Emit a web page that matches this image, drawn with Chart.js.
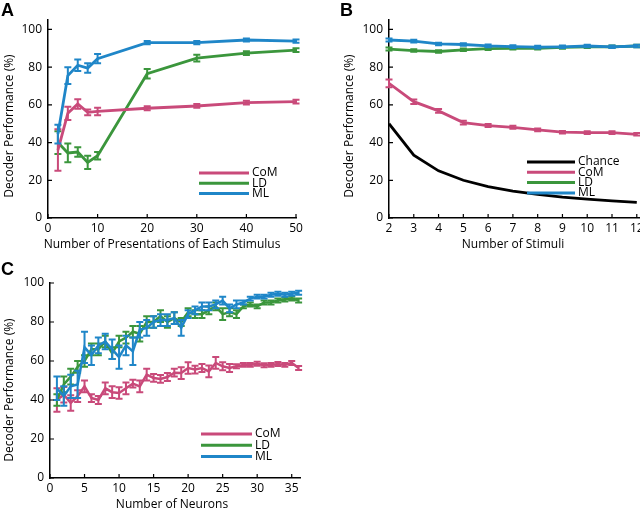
<!DOCTYPE html>
<html>
<head>
<meta charset="utf-8">
<script src="https://cdn.jsdelivr.net/npm/chart.js@4.4.1/dist/chart.umd.min.js"></script>
<style>
  html, body { margin: 0; padding: 0; background: #fff; width: 640px; height: 510px; overflow: hidden; }
  .panel { position: absolute; }
  .letter { position: absolute; font: bold 18px 'Liberation Sans', Arial, sans-serif; line-height: 1; color: #000; }
</style>
</head>
<body>
<canvas id="chartA" class="panel" width="320" height="255" style="left:0;top:0"></canvas>
<canvas id="chartB" class="panel" width="330" height="255" style="left:320px;top:0"></canvas>
<canvas id="chartC" class="panel" width="320" height="258" style="left:0;top:255px"></canvas>
<div class="letter" style="left:1px;top:1px">A</div>
<div class="letter" style="left:340px;top:1px">B</div>
<div class="letter" style="left:1px;top:260px">C</div>
<script>
// Panel A - decoder performance vs presentations
const aPresentations = [2, 4, 6, 8, 10, 20, 30, 40, 50]
const aCoM = [36, 55.5, 60.5, 56, 56.5, 58.2, 59.4, 61.2, 61.7]
const aCoMErr = [11, 3.5, 2.5, 1.5, 2, 1, 1, 1, 1]
const aLD = [40, 34.5, 35, 29.5, 33, 76.5, 84.8, 87.4, 89]
const aLDErr = [6, 5, 2.5, 3.5, 2, 2.5, 1.8, 1, 1]
const aML = [44.5, 75.5, 81, 79.5, 84.5, 93, 93, 94.4, 93.8]
const aMLErr = [5, 4.5, 3, 2.5, 2.5, 0.8, 0.8, 0.8, 0.8]

// Panel B - decoder performance vs number of stimuli
const bStimuli = [2, 3, 4, 5, 6, 7, 8, 9, 10, 11, 12]
const bChance = [50, 33.3, 25, 20, 16.7, 14.3, 12.5, 11.1, 10, 9.1, 8.3]
const bCoM = [71.4, 61.7, 56.8, 50.6, 49, 48.1, 46.7, 45.5, 45.3, 45.3, 44.4]
const bCoMErr = [2, 1.2, 1, 1, 0.8, 0.8, 0.7, 0.7, 0.7, 0.7, 0.7]
const bLD = [89.6, 88.8, 88.3, 89.2, 89.8, 90, 90, 90.5, 90.8, 90.8, 91.2]
const bLDErr = [0.8, 0.7, 0.7, 0.7, 0.7, 0.7, 0.7, 0.7, 0.7, 0.7, 0.7]
const bML = [94.4, 93.8, 92.3, 92, 91.3, 90.9, 90.6, 90.8, 91.2, 90.8, 91.2]
const bMLErr = [0.8, 0.7, 0.7, 0.7, 0.7, 0.7, 0.7, 0.7, 0.7, 0.7, 0.7]

// Panel C - decoder performance vs number of neurons
const cNeurons = [1, 2, 3, 4, 5, 6, 7, 8, 9, 10, 11, 12, 13, 14, 15, 16, 17, 18,
  19, 20, 21, 22, 23, 24, 25, 26, 27, 28, 29, 30, 31, 32, 33, 34, 35, 36]
const cCoM = [40, 42.7, 38.5, 42, 47, 41, 40, 46, 44, 43.6, 46, 48.4, 47, 53, 51.3, 50.8, 51.8, 54,
  53.8, 56.4, 55.6, 56.4, 54.7, 59, 57.3, 56.4, 57.3, 58, 58, 58.6, 57.8, 58, 58.5, 58, 59, 56.4]
const cCoMErr = [6, 4, 4, 3, 3, 2, 2, 3, 3, 3, 3, 2, 3, 3, 2, 2, 2, 2,
  3, 3, 2, 2, 3, 3, 2, 2, 1, 1, 1, 1, 1, 1, 1, 1, 1, 1]
const cLD = [40, 48, 52, 57, 60, 66, 66, 70, 64, 70, 72, 75, 74, 80, 80, 83, 80, 82,
  80, 85, 84, 84, 86, 88, 84, 85, 84, 88, 89, 88, 90, 90, 91, 91.5, 92, 91]
const cLDErr = [3, 4, 4, 3, 3, 3, 3, 3, 3, 3, 3, 3, 4, 3, 3, 3, 3, 3,
  2, 2, 2, 2, 2, 2, 3, 2, 2, 1, 1, 1, 1, 1, 1, 1, 1, 1]
const cML = [46, 42, 47, 48, 67, 63, 68, 70, 66, 62, 68, 65, 76, 77, 80, 81, 81, 82,
  77, 84, 86, 88, 88, 89, 91, 87, 89, 90, 92, 93, 93, 94, 94.5, 94, 94.5, 95]
const cMLErr = [6, 5, 6, 7, 8, 5, 4, 4, 5, 6, 5, 7, 4, 4, 3, 3, 3, 3,
  4, 2, 2, 2, 2, 2, 2, 2, 2, 1, 1, 1, 1, 1, 1, 1, 1, 1]

const pink = '#c94a7a'
const green = '#3b963c'
const blue = '#1f86c8'

Chart.defaults.font.family = '"Open Sans", sans-serif'
Chart.defaults.font.size = 12
Chart.defaults.color = '#000'

function points(xs, ys) {
  return xs.map((x, i) => ({ x: x, y: ys[i] }))
}

// draws the error bars right after each dataset so overlap order stays right
const errorBars = {
  id: 'errorBars',
  afterDatasetDraw(chart, args) {
    const ds = chart.data.datasets[args.index]
    if (!ds.errors) return
    const ctx = chart.ctx
    const yScale = chart.scales.y
    const w = ds.capWidth || 3.5
    ctx.save()
    ctx.strokeStyle = ds.borderColor
    ctx.lineWidth = ds.errorWidth || 2
    args.meta.data.forEach((pt, i) => {
      const v = ds.data[i].y
      const top = yScale.getPixelForValue(v + ds.errors[i])
      const bot = yScale.getPixelForValue(v - ds.errors[i])
      ctx.beginPath()
      ctx.moveTo(pt.x, top)
      ctx.lineTo(pt.x, bot)
      ctx.moveTo(pt.x - w, top)
      ctx.lineTo(pt.x + w, top)
      ctx.moveTo(pt.x - w, bot)
      ctx.lineTo(pt.x + w, bot)
      ctx.stroke()
    })
    ctx.restore()
  },
}

// MATLAB style ticks pointing into the plot
const inwardTicks = {
  id: 'inwardTicks',
  afterDraw(chart) {
    const { ctx, chartArea, scales } = chart
    ctx.save()
    ctx.strokeStyle = '#000'
    ctx.lineWidth = 1.2
    ctx.beginPath()
    scales.x.ticks.forEach((t) => {
      const px = scales.x.getPixelForValue(t.value)
      ctx.moveTo(px, chartArea.bottom)
      ctx.lineTo(px, chartArea.bottom - 4)
    })
    scales.y.ticks.forEach((t) => {
      const py = scales.y.getPixelForValue(t.value)
      ctx.moveTo(chartArea.left, py)
      ctx.lineTo(chartArea.left + 4, py)
    })
    ctx.stroke()
    ctx.restore()
  },
}

// axis titles placed where the figure has them (not centred on the axis)
const axisTitles = {
  id: 'axisTitles',
  afterDraw(chart, args, opts) {
    const ctx = chart.ctx
    ctx.save()
    ctx.font = '12px "Open Sans", sans-serif'
    ctx.fillStyle = '#000'
    ctx.textAlign = 'center'
    ctx.textBaseline = 'middle'
    ctx.fillText(opts.xText, opts.xAt[0], opts.xAt[1])
    ctx.translate(opts.yAt[0], opts.yAt[1])
    ctx.rotate(-Math.PI / 2)
    ctx.fillText('Decoder Performance (%)', 0, 0)
    ctx.restore()
  },
}

// legend as line + label inside the plot
const lineLegend = {
  id: 'lineLegend',
  afterDatasetsDraw(chart, args, opts) {
    if (!opts.items) return
    const ctx = chart.ctx
    ctx.save()
    ctx.font = '12px "Open Sans", sans-serif'
    ctx.textBaseline = 'middle'
    opts.items.forEach((idx, k) => {
      const ds = chart.data.datasets[idx]
      const y = opts.y + k * opts.gap
      ctx.strokeStyle = ds.borderColor
      ctx.lineWidth = 3
      ctx.beginPath()
      ctx.moveTo(opts.x, y)
      ctx.lineTo(opts.x + opts.len, y)
      ctx.stroke()
      ctx.fillStyle = '#000'
      ctx.fillText(ds.label, opts.x + opts.len + 3, y)
    })
    ctx.restore()
  },
}

function series(label, xs, ys, errs, color, order, width) {
  return {
    label: label,
    data: points(xs, ys),
    errors: errs,
    borderColor: color,
    backgroundColor: color,
    borderWidth: width,
    pointRadius: 0,
    order: order,
  }
}

function makeChart(id, datasets, cfg) {
  return new Chart(document.getElementById(id), {
    type: 'line',
    data: { datasets: datasets },
    options: {
      responsive: false,
      animation: false,
      events: [],
      layout: { padding: cfg.padding },
      plugins: {
        legend: { display: false },
        tooltip: { enabled: false },
        lineLegend: cfg.legend,
        axisTitles: cfg.titles,
      },
      scales: {
        x: {
          type: 'linear',
          min: cfg.xMin,
          max: cfg.xMax,
          grid: { display: false, drawTicks: false },
          border: { display: true, color: '#000', width: 1.5 },
          ticks: { stepSize: cfg.xStep, includeBounds: false, padding: 3, maxRotation: 0, font: { size: 12 } },
          afterFit: (s) => { s.height = cfg.xHeight },
        },
        y: {
          min: 0,
          max: cfg.yMax,
          grid: { display: false, drawTicks: false },
          border: { display: true, color: '#000', width: 1.5 },
          ticks: { stepSize: 20, includeBounds: false, padding: 6, font: { size: 12 } },
          afterFit: (s) => { s.width = cfg.yWidth },
        },
      },
    },
    plugins: [errorBars, inwardTicks, lineLegend, axisTitles],
  })
}

makeChart('chartA', [
  series('CoM', aPresentations, aCoM, aCoMErr, pink, 1, 2.8),
  series('LD', aPresentations, aLD, aLDErr, green, 2, 2.8),
  series('ML', aPresentations, aML, aMLErr, blue, 0, 2.8),
], {
  padding: { top: 20, right: 24, left: 0, bottom: 0 },
  xMin: 0, xMax: 50, xStep: 10, yMax: 105,
  xHeight: 37, yWidth: 48,
  titles: { xText: 'Number of Presentations of Each Stimulus', xAt: [162, 245], yAt: [10, 126] },
  legend: { items: [0, 1, 2], x: 199, y: 173, gap: 10.2, len: 50 },
})

makeChart('chartB', [
  { label: 'Chance', data: points(bStimuli, bChance), borderColor: '#000', borderWidth: 2.8, pointRadius: 0, order: 0 },
  series('CoM', bStimuli, bCoM, bCoMErr, pink, 3, 2.8),
  series('LD', bStimuli, bLD, bLDErr, green, 2, 2.8),
  series('ML', bStimuli, bML, bMLErr, blue, 1, 2.8),
], {
  padding: { top: 20, right: 10, left: 0, bottom: 0 },
  xMin: 2, xMax: 12.13, xStep: 1, yMax: 105,
  xHeight: 37, yWidth: 69,
  titles: { xText: 'Number of Stimuli', xAt: [193, 245], yAt: [30, 126] },
  legend: { items: [0, 1, 2, 3], x: 207, y: 162, gap: 10.3, len: 48 },
})

makeChart('chartC', [
  series('CoM', cNeurons, cCoM, cCoMErr, pink, 2, 2.5),
  series('LD', cNeurons, cLD, cLDErr, green, 1, 2.5),
  series('ML', cNeurons, cML, cMLErr, blue, 0, 2.5),
], {
  padding: { top: 28, right: 20, left: 0, bottom: 0 },
  xMin: 0, xMax: 36.2, xStep: 5, yMax: 100,
  xHeight: 35, yWidth: 50,
  titles: { xText: 'Number of Neurons', xAt: [172, 250], yAt: [10, 135] },
  legend: { items: [0, 1, 2], x: 201, y: 179, gap: 11.3, len: 51 },
})
</script>
</body>
</html>
